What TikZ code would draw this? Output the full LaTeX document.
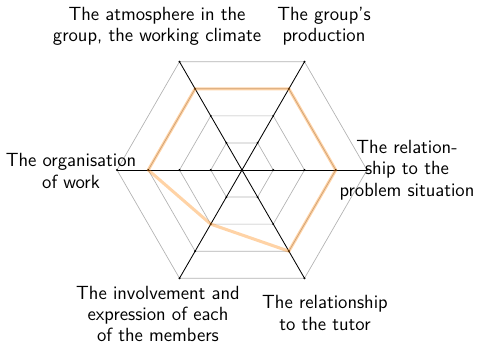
\documentclass[tikz,border=0pt]{standalone}
\usetikzlibrary{calc}
\begin{document}
\begin{tikzpicture}[x=0.02083cm, y=0.02083cm,
  gridline/.style={draw=black!30, line width=0.4pt},
  axisline/.style={draw=black, line width=0.5pt},
  valueline/.style={draw=orange, draw opacity=0.35, line width=1.8pt, line join=round},
  lbl/.style={align=center, font=\sffamily\fontsize{11.3}{12.6}\selectfont, inner sep=0pt}]
\useasboundingbox (0,0) rectangle (480,343);
\coordinate (O) at (242,173);
\foreach \i/\a in {1/0,2/60,3/120,4/180,5/240,6/300}{
  \foreach \k in {1,2,3,4}{
    \coordinate (p\i-\k) at ($(O)+(\a:{31.25*\k})$);
  }
}
\foreach \k in {1,2,3,4}{
  \draw[gridline] (p1-\k) -- (p2-\k) -- (p3-\k) -- (p4-\k) -- (p5-\k) -- (p6-\k) -- cycle;
}
\draw[axisline] (p1-4) -- (p4-4);
\draw[axisline] (p2-4) -- (p5-4);
\draw[axisline] (p3-4) -- (p6-4);
\foreach \i in {1,...,6}{
  \foreach \k in {1,2,3,4}{
    \fill (p\i-\k) circle (1.1);
  }
}
\fill (O) circle (1.1);
\draw[valueline] (p1-3) -- (p2-3) -- (p3-3) -- (p4-3) -- (p5-2) -- (p6-3) -- cycle;
\node[lbl] (l3) at (157,317) {The atmosphere in the\\group, the working climate};
\node[lbl] (l2) at (324,317) {The group's\\production};
\node[lbl] (l1) at (407,173) {The relation-\\ship to the\\problem situation};
\node[lbl] (l4) at (71,172) {The organisation\\of work};
\node[lbl] (l5) at (158,29) {The involvement and\\expression of each\\of the members};
\node[lbl] (l6) at (325,30) {The relationship\\to the tutor};
\end{tikzpicture}
\end{document}
